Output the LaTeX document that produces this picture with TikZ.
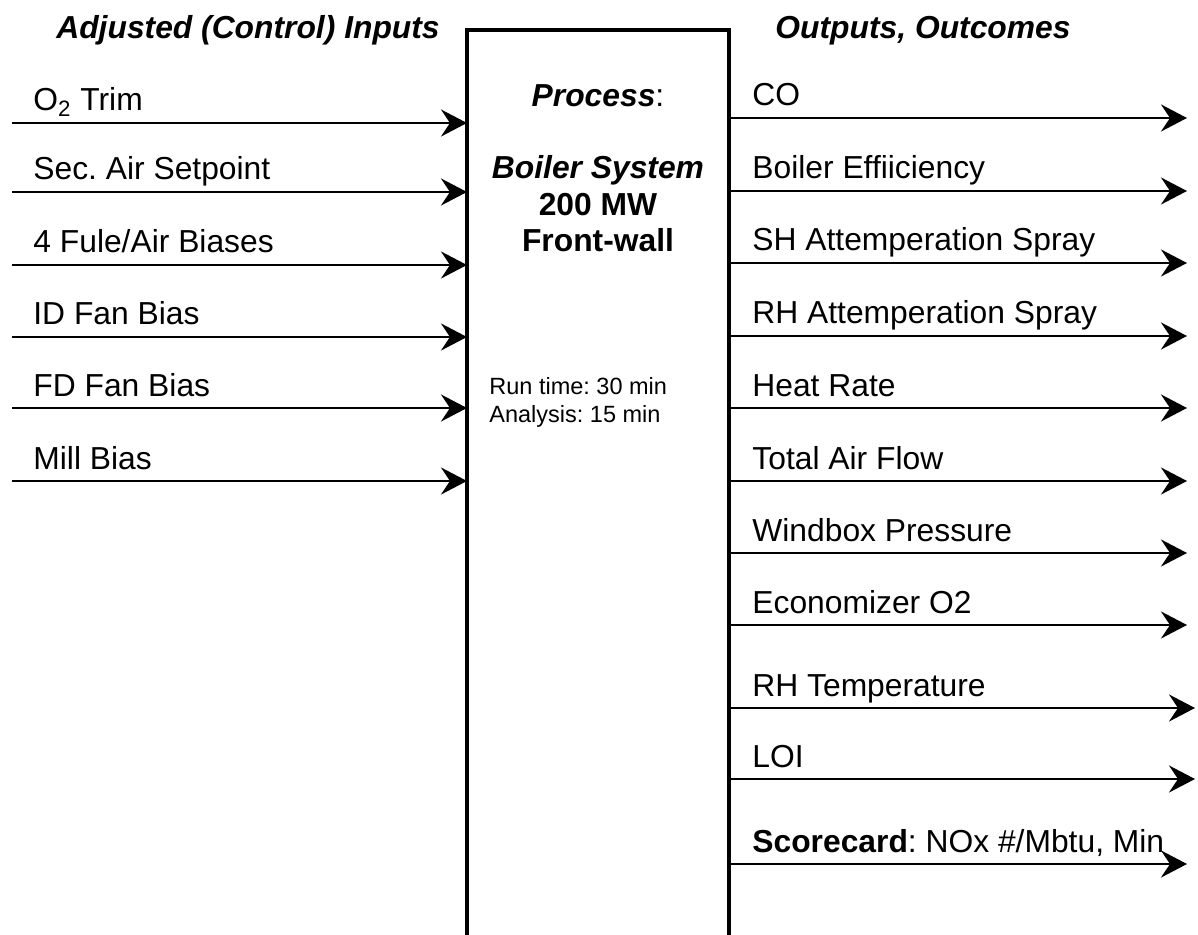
\documentclass[tikz,border=0pt]{standalone}
\usepackage{fontspec}
\setmainfont{Liberation Sans}
\usetikzlibrary{arrows.meta}
\frenchspacing
\begin{document}
\begin{tikzpicture}[x=0.5pt,y=-0.5pt,
  lbl/.style={anchor=base west, inner sep=0pt, font=\fontsize{15.9}{18}\selectfont},
  ttl/.style={anchor=base, inner sep=0pt, font=\fontsize{15.9}{18}\selectfont\bfseries\itshape},
  boxtxt/.style={anchor=base, inner sep=0pt, font=\fontsize{15.9}{18}\selectfont\bfseries},
  smalltxt/.style={anchor=base west, inner sep=0pt, font=\fontsize{11.75}{14}\selectfont},
  arr/.style={line width=1.4pt, -{Stealth[length=13pt,width=13.5pt,inset=4.5pt]}},
  boxline/.style={line width=1.75pt}]
\useasboundingbox (0,0) rectangle (1198,935);
% process box (open at the bottom)
\coordinate (bbl) at (467,940);
\coordinate (btl) at (467,30);
\coordinate (btr) at (729,30);
\coordinate (bbr) at (729,940);
\draw[boxline] (bbl) -- (btl) -- (btr) -- (bbr);
% titles
\node[ttl] (tin) at (248,39) {Adjusted (Control) Inputs};
\node[ttl] (tout) at (923,39) {Outputs, Outcomes};
% box texts
\node[boxtxt] (p1) at (598,107) {\textit{Process}\mdseries:};
\node[boxtxt] (p2) at (598,179) {\textit{Boiler System}};
\node[boxtxt] (p3) at (598,216) {200 MW};
\node[boxtxt] (p4) at (598,252) {Front-wall};
\node[smalltxt] (r1) at (489,394) {Run time: 30 min};
\node[smalltxt] (r2) at (489,422) {Analysis: 15 min};
% inputs
\foreach \i/\y/\t in {1/123/{O\textsubscript{2} Trim},2/192/{Sec. Air Setpoint},3/265/{4 Fule/Air Biases},4/337/{ID Fan Bias},5/408/{FD Fan Bias},6/481/{Mill Bias}} {
  \coordinate (is\i) at (12,\y);
  \coordinate (ie\i) at (467,\y);
  \node[lbl] (il\i) at (33,\y-12) {\t};
  \draw[arr] (is\i) -- (ie\i);
}
% outputs
\foreach \i/\y/\e/\t in {1/118/1187/{CO},2/191/1187/{Boiler Effiiciency},3/263/1187/{SH Attemperation Spray},4/336/1187/{RH Attemperation Spray},5/408/1187/{Heat Rate},6/481/1187/{Total Air Flow},7/553/1187/{Windbox Pressure},8/625/1187/{Economizer O2},9/708/1195/{RH Temperature},10/779/1195/{LOI},11/864/1187/{\textbf{Scorecard}: NOx \#/Mbtu, Min}} {
  \coordinate (os\i) at (729,\y);
  \coordinate (oe\i) at (\e,\y);
  \node[lbl] (ol\i) at (752,\y-12) {\t};
  \draw[arr] (os\i) -- (oe\i);
}
\end{tikzpicture}
\end{document}
